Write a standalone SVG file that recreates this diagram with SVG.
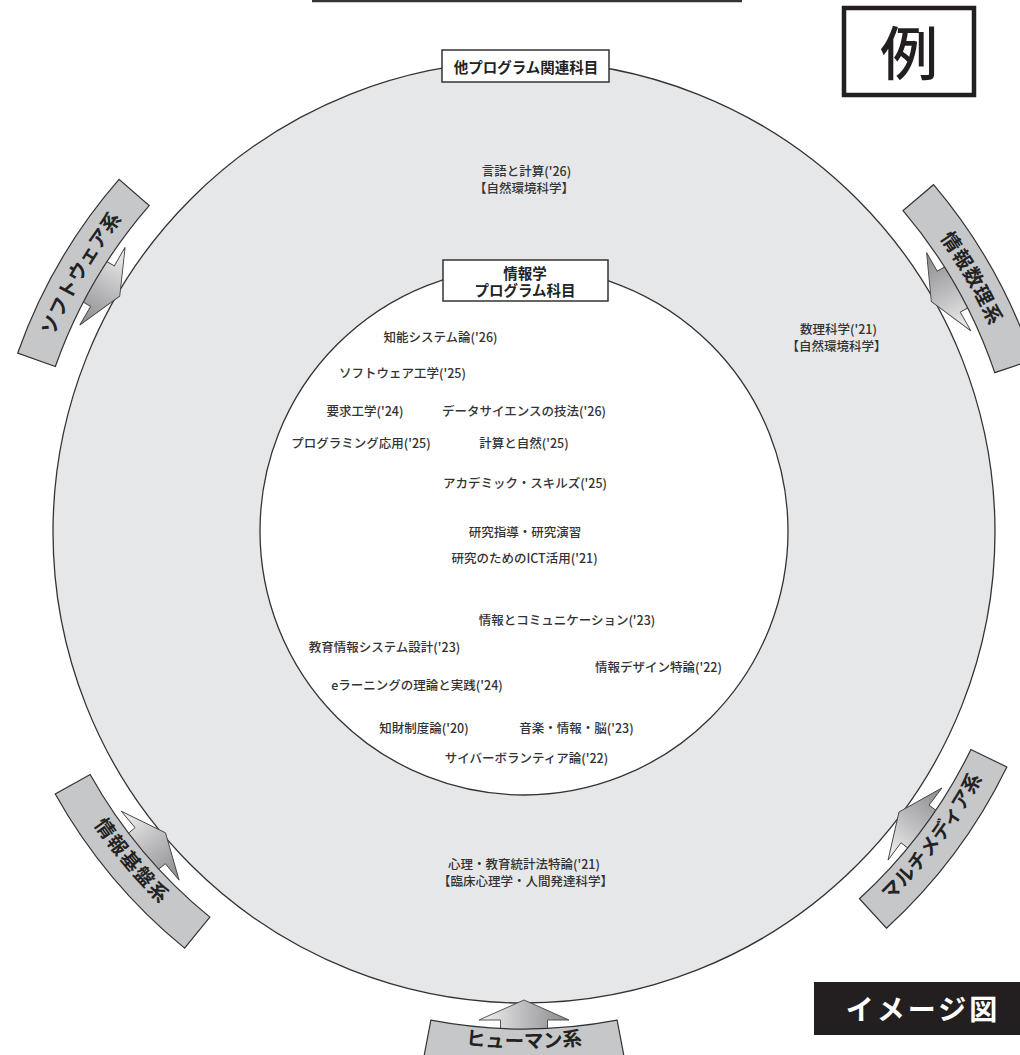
<svg xmlns="http://www.w3.org/2000/svg" xmlns:xlink="http://www.w3.org/1999/xlink" width="1020" height="1055" viewBox="0 0 1020 1055">
<style>
.t{font-family:"Noto Sans CJK JP","Noto Sans",sans-serif;font-size:12.5px;font-weight:500;fill:#333;text-anchor:middle}
.lb{font-family:"Noto Sans CJK JP","Noto Sans",sans-serif;font-weight:700;fill:#222;text-anchor:middle}
.band{fill:#c6c7c9;stroke:#333;stroke-width:1.2}
.band-t{font-family:"Noto Sans CJK JP","Noto Sans",sans-serif;font-size:19.5px;font-weight:700;fill:#222;text-anchor:middle}
.arr{fill:url(#ag);stroke:#444;stroke-width:0.9;stroke-linejoin:miter}
.box{fill:#fff;stroke:#333;stroke-width:1.5}
</style>
<defs>
<linearGradient id="ag" gradientUnits="userSpaceOnUse" x1="-45" y1="0" x2="45" y2="0">
<stop offset="0" stop-color="#f4f4f4"/>
<stop offset="0.5" stop-color="#bcbcbe"/>
<stop offset="1" stop-color="#8a8a8c"/>
</linearGradient>
<path id="bandShape" d="M -93.13 488.2 A 497 497 0 0 0 93.13 488.2 L 100.62 527.49 A 537 537 0 0 1 -100.62 527.49 Z"/>
<path id="tpOut" d="M 123.26 494.37 A 509.6 509.6 0 0 1 -123.26 494.37"/>
<path id="tpIn" d="M -125.8 504.6 A 520 520 0 0 0 125.8 504.6"/>
<path id="tpHum" d="M -124.8 500.7 A 516 516 0 0 0 124.8 500.7"/>
<path id="arrowShape" d="M 0 468 L 45 488 L 23.5 488 L 23.5 500 L -23.5 500 L -23.5 488 L -45 488 Z"/>
</defs>
<rect x="0" y="0" width="1020" height="1055" fill="#fff"/>
<line x1="312" y1="1" x2="742" y2="1" stroke="#333" stroke-width="2.5"/>

<g id="outer-circle">
<circle cx="524" cy="532" r="471" fill="#e6e7e8" stroke="#333" stroke-width="1.3"/>
</g>
<g id="inner-circle">
<circle cx="524" cy="531" r="264" fill="#fff" stroke="#333" stroke-width="1.3"/>
</g>

<g id="connectors">
<use href="#arrowShape" class="arr" transform="translate(524 532) rotate(-239.75)"/>
<use href="#arrowShape" class="arr" transform="translate(524 532) rotate(-119.5)"/>
<use href="#arrowShape" class="arr" transform="translate(524 532) rotate(50)"/>
<use href="#arrowShape" class="arr" transform="translate(524 532) rotate(-53.25)"/>
<use href="#arrowShape" class="arr" transform="translate(524 532) rotate(0)"/>
</g>

<g id="band-software" transform="translate(524 532) rotate(-239.75)">
<use href="#bandShape" class="band"/>
<text class="band-t"><textPath href="#tpOut" startOffset="50%">ソフトウェア系</textPath></text>
</g>
<g id="band-suuri" transform="translate(524 532) rotate(-119.5)">
<use href="#bandShape" class="band"/>
<text class="band-t" font-size="20.5" letter-spacing="1"><textPath href="#tpOut" startOffset="50%">情報数理系</textPath></text>
</g>
<g id="band-kiban" transform="translate(524 532) rotate(50)">
<use href="#bandShape" class="band"/>
<text class="band-t" font-size="21" letter-spacing="1.5"><textPath href="#tpIn" startOffset="50%">情報基盤系</textPath></text>
</g>
<g id="band-multimedia" transform="translate(524 532) rotate(-53.25)">
<use href="#bandShape" class="band"/>
<text class="band-t"><textPath href="#tpIn" startOffset="50%">マルチメディア系</textPath></text>
</g>
<g id="band-human" transform="translate(524 532)">
<use href="#bandShape" class="band"/>
<text class="band-t"><textPath href="#tpHum" startOffset="50%">ヒューマン系</textPath></text>
</g>

<g id="label-other">
<rect class="box" x="442" y="50" width="167" height="32"/>
<text class="lb" x="526" y="72.5" font-size="14.5">他プログラム関連科目</text>
</g>
<g id="label-info">
<rect class="box" x="443" y="260" width="165" height="41"/>
<text class="lb" x="525" y="278.5" font-size="14.5">情報学</text>
<text class="lb" x="525" y="295.5" font-size="14.5">プログラム科目</text>
</g>

<g id="example-box">
<rect x="844" y="8" width="130" height="87" fill="#fff" stroke="#231f20" stroke-width="4.5"/>
<text x="909" y="75" font-family="'Noto Sans CJK JP',sans-serif" font-size="58" font-weight="500" fill="#231f20" text-anchor="middle">例</text>
</g>
<g id="image-box">
<rect x="814" y="982" width="206" height="53" fill="#231f20"/>
<text x="923" y="1020" font-family="'Noto Sans CJK JP',sans-serif" font-size="28" font-weight="700" fill="#fff" text-anchor="middle" letter-spacing="3">イメージ図</text>
</g>

<g id="course-gengo"><text class="t" x="526.5" y="176">言語と計算('26)</text><text class="t" x="524" y="193">【自然環境科学】</text></g>
<g id="course-suuri"><text class="t" x="838.5" y="334">数理科学('21)</text><text class="t" x="836.5" y="351">【自然環境科学】</text></g>
<g id="course-shinri"><text class="t" x="524" y="869">心理・教育統計法特論('21)</text><text class="t" x="525.5" y="886">【臨床心理学・人間発達科学】</text></g>

<g id="course-chino"><text class="t" x="440.5" y="341.5">知能システム論('26)</text></g>
<g id="course-software"><text class="t" x="402.5" y="377.5">ソフトウェア工学('25)</text></g>
<g id="course-yokyu"><text class="t" x="365" y="415.5">要求工学('24)</text></g>
<g id="course-data"><text class="t" x="524" y="415.5">データサイエンスの技法('26)</text></g>
<g id="course-prog"><text class="t" x="361" y="447.5">プログラミング応用('25)</text></g>
<g id="course-keisan"><text class="t" x="524" y="447.5">計算と自然('25)</text></g>
<g id="course-academic"><text class="t" x="525" y="487.5">アカデミック・スキルズ('25)</text></g>
<g id="course-kenkyu"><text class="t" x="525" y="536.5">研究指導・研究演習</text></g>
<g id="course-ict"><text class="t" x="524.5" y="562.5">研究のためのICT活用('21)</text></g>
<g id="course-comm"><text class="t" x="567" y="624.5">情報とコミュニケーション('23)</text></g>
<g id="course-kyoiku"><text class="t" x="384.5" y="651.5">教育情報システム設計('23)</text></g>
<g id="course-design"><text class="t" x="658.5" y="671.5">情報デザイン特論('22)</text></g>
<g id="course-elearning"><text class="t" x="417" y="689.5">eラーニングの理論と実践('24)</text></g>
<g id="course-chizai"><text class="t" x="424" y="732.5">知財制度論('20)</text></g>
<g id="course-ongaku"><text class="t" x="576.5" y="732.5">音楽・情報・脳('23)</text></g>
<g id="course-cyber"><text class="t" x="526.5" y="762.5">サイバーボランティア論('22)</text></g>
</svg>
